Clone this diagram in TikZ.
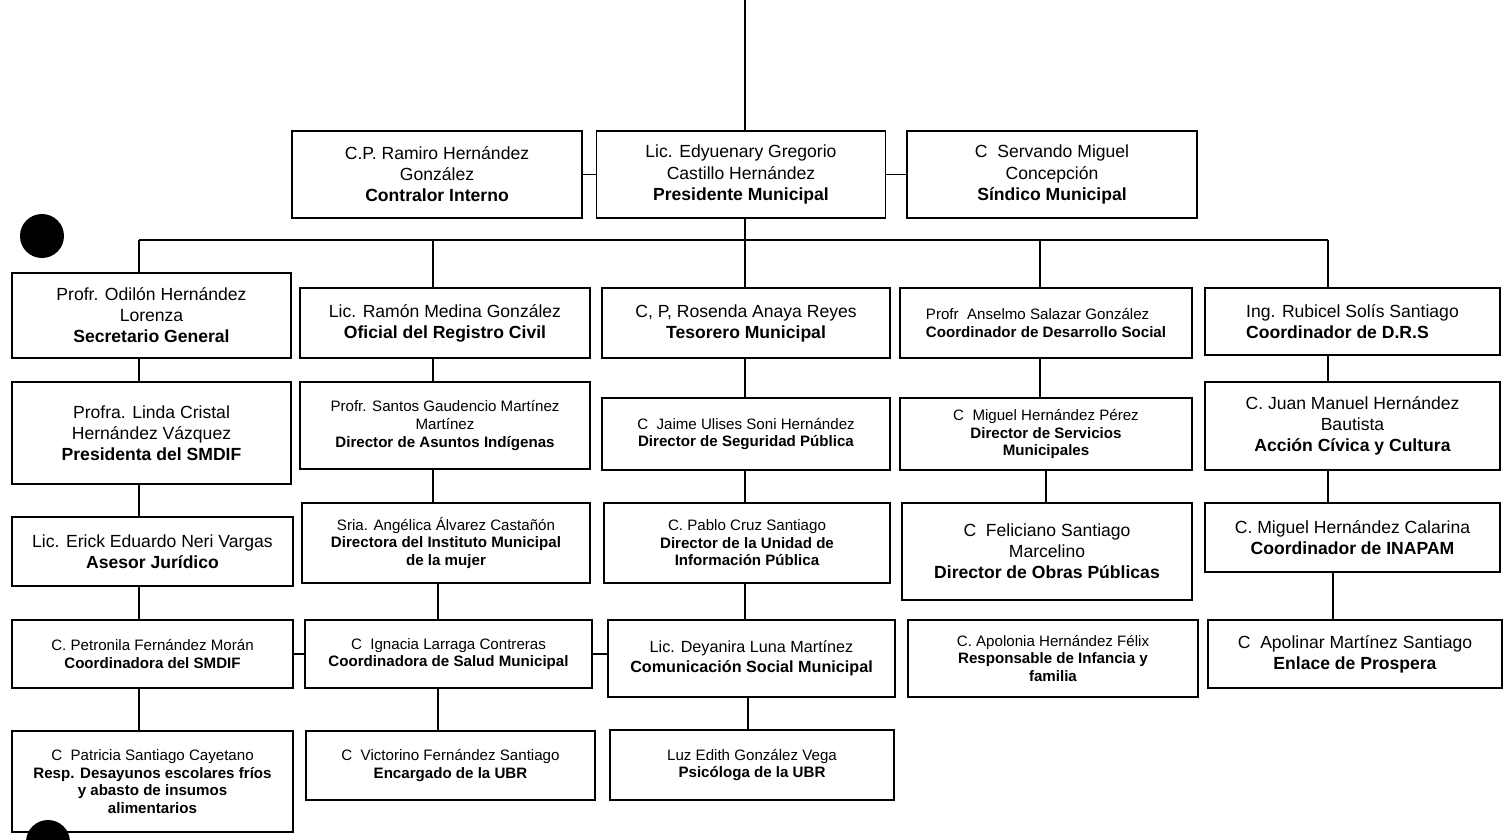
\documentclass[tikz,border=0pt]{standalone}
\usepackage{fontspec}
\setmainfont{Liberation Sans}

\begin{document}
\begin{tikzpicture}[
    x=0.02cm, y=-0.02cm, % one unit = one pixel of the scan
    cargo/.style={draw, line width=1.1pt, align=center, inner sep=1pt, font=\fontsize{10}{12}\selectfont}, % large box
    chico/.style={cargo, font=\fontsize{8.6}{10}\selectfont}, % small print box
    medio/.style={cargo, font=\fontsize{9.2}{11.3}\selectfont}, % medium print box
    tam/.style 2 args={minimum width=#1*0.02cm, minimum height=#2*0.02cm}, % width and height
    linea/.style={draw, line width=0.8pt} % connectors
    ]
\useasboundingbox (0,0) rectangle (1508,839);

% top row
\node[cargo, tam={290}{87}] (contralor) at (437,174.5) {C.P. Ramiro Hernández\\ González\\ \textbf{Contralor Interno}};
\node[cargo, tam={289}{87}] (pres) at (741,174.5) {Lic. Edyuenary Gregorio\\ Castillo Hernández\\ \textbf{Presidente Municipal}};
\node[cargo, tam={290}{87}] (sind) at (1052,174.5) {C\ \ Servando Miguel\\ Concepción\\ \textbf{Síndico Municipal}};

% column 1
\node[cargo, tam={279}{85}] (sec) at (151.5,315.5) {Profr. Odilón Hernández\\ Lorenza\\ \textbf{Secretario General}};
\node[cargo, tam={279}{102}] (presdif) at (151.5,433) {Profra. Linda Cristal\\ Hernández Vázquez\\ \textbf{Presidenta del SMDIF}};
\node[cargo, tam={281}{69}] (asesor) at (152.5,551.5) {Lic. Erick Eduardo Neri Vargas\\ \textbf{Asesor Jurídico}};
\node[chico, tam={281}{68}] (smdif) at (152.5,654) {C. Petronila Fernández Morán\\ \textbf{Coordinadora del SMDIF}};
\node[chico, tam={281}{101}] (patricia) at (152.5,781.5) {C\ \ Patricia Santiago Cayetano\\ \textbf{Resp. Desayunos escolares fríos}\\ \textbf{y abasto de insumos}\\ \textbf{alimentarios}};

% column 2
\node[cargo, tam={290}{70}] (ofi) at (445,323) {Lic. Ramón Medina González\\ \textbf{Oficial del Registro Civil}};
\node[chico, tam={290}{87}] (asun) at (445,425.5) {Profr. Santos Gaudencio Martínez\\ Martínez\\ \textbf{Director de Asuntos Indígenas}};
\node[chico, tam={288}{80}] (mujer) at (446,543) {Sria. Angélica Álvarez Castañón\\ \textbf{Directora del Instituto Municipal}\\ \textbf{de la mujer}};
\node[chico, tam={287}{68}] (salud) at (448.5,654) {C\ \ Ignacia Larraga Contreras\\ \textbf{Coordinadora de Salud Municipal}};
\node[chico, tam={289}{69}] (ubr) at (450.5,765.5) {C\ \ Victorino Fernández Santiago\\ \textbf{Encargado de la UBR}};

% column 3
\node[cargo, tam={288}{70}] (tes) at (746,323) {C, P, Rosenda Anaya Reyes\\ \textbf{Tesorero Municipal}};
\node[chico, tam={288}{72}] (seg) at (746,434) {C\ \ Jaime Ulises Soni Hernández\\ \textbf{Director de Seguridad Pública}};
\node[chico, tam={286}{80}] (info) at (747,543) {C. Pablo Cruz Santiago\\ \textbf{Director de la Unidad de}\\ \textbf{Información Pública}};
\node[medio, tam={287}{77}] (com) at (751.5,658.5) {Lic. Deyanira Luna Martínez\\ \textbf{Comunicación Social Municipal}};
\node[chico, tam={284}{70}] (psic) at (752,765) {Luz Edith González Vega\\ \textbf{Psicóloga de la UBR}};

% column 4
\node[chico, align=left, tam={292}{70}] (des) at (1046,323) {Profr\ \ Anselmo Salazar González\\ \textbf{Coordinador de Desarrollo Social}};
\node[chico, tam={292}{72}] (serv) at (1046,434) {C\ \ Miguel Hernández Pérez\\ \textbf{Director de Servicios}\\ \textbf{Municipales}};
\node[cargo, tam={290}{97}] (obras) at (1047,551.5) {C\ \ Feliciano Santiago\\ Marcelino\\ \textbf{Director de Obras Públicas}};
\node[chico, tam={290}{77}] (apol) at (1053,658.5) {C. Apolonia Hernández Félix\\ \textbf{Responsable de Infancia y}\\ \textbf{familia}};

% column 5
\node[cargo, align=left, tam={295}{67}] (rub) at (1352.5,321.5) {Ing. Rubicel Solís Santiago\\ \textbf{Coordinador de D.R.S}};
\node[cargo, tam={295}{88}] (juan) at (1352.5,426) {C. Juan Manuel Hernández\\ Bautista\\ \textbf{Acción Cívica y Cultura}};
\node[cargo, tam={295}{69}] (inapam) at (1352.5,537.5) {C. Miguel Hernández Calarina\\ \textbf{Coordinador de INAPAM}};
\node[cargo, tam={294}{68}] (apoli) at (1355,654) {C\ \ Apolinar Martínez Santiago\\ \textbf{Enlace de Prospera}};

% connectors
\coordinate (arriba) at (745,0);
\coordinate (c1) at (139,240);
\coordinate (c2) at (433,240);
\coordinate (c3) at (745,240);
\coordinate (c4) at (1040,240);
\coordinate (c5) at (1328,240);
\coordinate (d2) at (438,0);
\coordinate (d3) at (748,0);
\coordinate (d4) at (1046,0);
\coordinate (d5) at (1333,0);

\draw[linea] (arriba) -- (arriba |- pres.north);
\draw[linea] (contralor.east) -- (pres.west);
\draw[linea] (pres.east) -- (sind.west);
\draw[linea] (c1) -- (c5);
\draw[linea] (pres.south -| c3) -- (c3 |- tes.north);
\draw[linea] (c1) -- (c1 |- sec.north);
\draw[linea] (c2) -- (c2 |- ofi.north);
\draw[linea] (c4) -- (c4 |- des.north);
\draw[linea] (c5) -- (c5 |- rub.north);

\foreach \a/\b in {sec/presdif, presdif/asesor, asesor/smdif, smdif/patricia}
    \draw[linea] (\a.south -| c1) -- (\b.north -| c1);
\foreach \a/\b/\x in {ofi/asun/c2, asun/mujer/c2, mujer/salud/d2, salud/ubr/d2,
                      tes/seg/c3, seg/info/c3, info/com/c3, com/psic/d3,
                      des/serv/c4, serv/obras/d4,
                      rub/juan/c5, juan/inapam/c5, inapam/apoli/d5}
    \draw[linea] (\a.south -| \x) -- (\b.north -| \x);

\draw[linea] (smdif.east) -- (salud.west);
\draw[linea] (salud.east) -- (salud.east -| com.west);

% punch holes of the scan
\fill (42,236) circle[radius=0.44cm];
\fill (48,842) circle[radius=0.44cm];
\draw[linea] (15,832) -- (26,832);
\end{tikzpicture}
\end{document}
